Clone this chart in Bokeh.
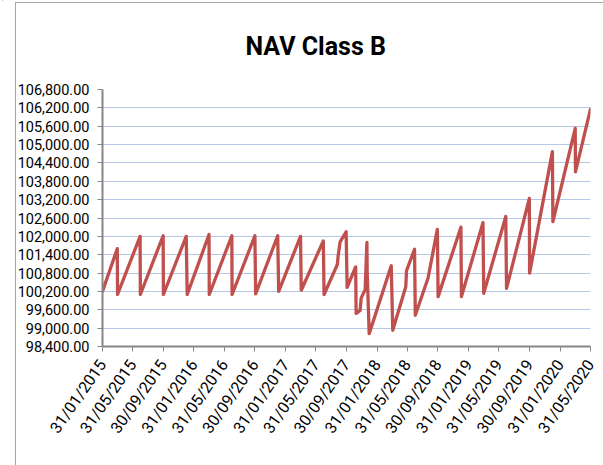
import pandas as pd
from bokeh.plotting import figure
from bokeh.models import (Range1d, FixedTicker, NumeralTickFormatter,
                          DatetimeTickFormatter, InlineStyleSheet)
from bokeh.embed import file_html
from bokeh.resources import INLINE

# ---- data ----
nav_dates = [
    "2015-01-31", "2015-03-31", "2015-04-01", "2015-06-30", "2015-07-01",
    "2015-09-30", "2015-10-01", "2015-12-31", "2016-01-04", "2016-03-31",
    "2016-04-01", "2016-06-30", "2016-07-01", "2016-09-30", "2016-10-03",
    "2016-12-30", "2017-01-03", "2017-03-31", "2017-04-03", "2017-06-30",
    "2017-07-03", "2017-08-25", "2017-08-28", "2017-09-05", "2017-09-29",
    "2017-10-03", "2017-11-06", "2017-11-08", "2017-11-24", "2017-11-28",
    "2017-12-14", "2017-12-21", "2017-12-22", "2017-12-30", "2018-03-28",
    "2018-04-03", "2018-05-25", "2018-05-28", "2018-06-29", "2018-07-02",
    "2018-08-22", "2018-09-28", "2018-10-01", "2018-12-31", "2019-01-02",
    "2019-03-29", "2019-04-01", "2019-06-28", "2019-07-01", "2019-09-30",
    "2019-10-01", "2019-12-31", "2020-01-02", "2020-03-31", "2020-04-01",
    "2020-05-31",
]
nav_values = [
    100200, 101600, 100100, 102000, 100100,
    102020, 100100, 102000, 100100, 102060,
    100100, 102020, 100100, 102020, 100120,
    102020, 100200, 102000, 100240, 101850,
    100100, 101080, 101350, 101820, 102150,
    100330, 101000, 99480, 99580, 99980,
    100260, 101800, 100860, 98820, 101040,
    98930, 100350, 100880, 101580, 99420,
    100640, 102230, 100030, 102300, 100030,
    102450, 100140, 102650, 100300, 103240,
    100800, 104770, 102480, 105530, 104110,
    106160,
]
x_tick_dates = [
    "2015-01-31", "2015-05-31", "2015-09-30", "2016-01-31", "2016-05-31",
    "2016-09-30", "2017-01-31", "2017-05-31", "2017-09-30", "2018-01-31",
    "2018-05-31", "2018-09-30", "2019-01-31", "2019-05-31", "2019-09-30",
    "2020-01-31", "2020-05-31",
]
y_ticks = [98400, 99000, 99600, 100200, 100800, 101400, 102000, 102600,
           103200, 103800, 104400, 105000, 105600, 106200, 106800]
title_text = "NAV Class B"

# ---- figure ----
xd = pd.to_datetime(nav_dates)
tick_ms = [pd.Timestamp(d).value / 1e6 for d in x_tick_dates]

FONT = "Roboto"

frame_css = InlineStyleSheet(css="""
:host::before { content: ""; position: absolute; left: 2px; top: 0px;
  width: 1px; height: 465px; background: #b0b0b0; pointer-events: none; }
:host::after { content: ""; position: absolute; left: 15px; top: 2px;
  width: 588px; height: 463px; border-left: 1px solid #a6a6a6;
  border-top: 1px solid #a6a6a6; box-sizing: border-box; pointer-events: none; }
""")

p = figure(width=603, height=465, x_axis_type="datetime",
           output_backend="svg", toolbar_location=None,
           x_range=Range1d(tick_ms[0], tick_ms[-1]),
           y_range=Range1d(y_ticks[0], y_ticks[-1]),
           min_border_left=102, min_border_right=13,
           min_border_top=89, min_border_bottom=119,
           stylesheets=[frame_css])
p.outline_line_color = None
p.background_fill_color = "white"
p.border_fill_color = "white"

p.title.text = title_text
p.title.align = "left"
p.title.vertical_align = "bottom"
p.title.offset = 143
p.title.standoff = 57
p.title.text_font = FONT
p.title.text_font_style = "bold"
p.title.text_font_size = "25px"
p.title.text_color = "#000000"

p.line(xd, nav_values, line_color="#C0504D", line_width=3.3,
       line_join="round", line_cap="round")

p.xgrid.visible = False
p.ygrid.grid_line_color = "#B4C7E7"
p.ygrid.grid_line_width = 1

ya = p.yaxis[0]
ya.ticker = FixedTicker(ticks=y_ticks)
ya.formatter = NumeralTickFormatter(format="0,0.00")
ya.minor_tick_line_color = None
ya.axis_line_color = "#868686"
ya.axis_line_width = 2
ya.major_tick_line_color = "#868686"
ya.major_tick_in = 0
ya.major_tick_out = 5
ya.major_label_standoff = 8
ya.major_label_text_font = FONT
ya.major_label_text_font_size = "14.5px"
ya.major_label_text_color = "#000000"

xa = p.xaxis[0]
xa.ticker = FixedTicker(ticks=tick_ms)
fmt = "%d/%m/%Y"
xa.formatter = DatetimeTickFormatter(milliseconds=fmt, seconds=fmt, minsec=fmt,
                                     minutes=fmt, hourmin=fmt, hours=fmt,
                                     days=fmt, months=fmt, years=fmt)
xa.minor_tick_line_color = None
xa.axis_line_color = "#868686"
xa.axis_line_width = 2
xa.major_tick_line_color = "#868686"
xa.major_tick_in = 0
xa.major_tick_out = 5
xa.major_label_orientation = 0.96
xa.major_label_standoff = 10
xa.major_label_text_font = FONT
xa.major_label_text_font_size = "16px"
xa.major_label_text_color = "#000000"

open("out.html", "w").write(file_html(p, INLINE))
